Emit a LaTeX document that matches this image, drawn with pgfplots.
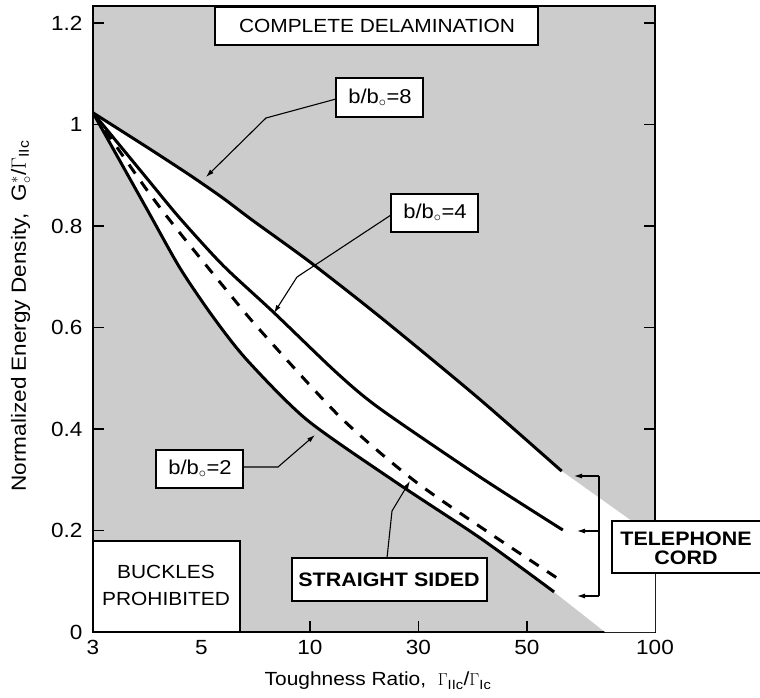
\documentclass[border=0pt]{standalone}
\usepackage{fontspec}
\setmainfont{Liberation Sans}[FakeStretch=1.1]
\usepackage{pgfplots}
\pgfplotsset{compat=1.18}
\usetikzlibrary{arrows.meta}
\definecolor{bggray}{RGB}{204,204,204}

\begin{document}
\begin{tikzpicture}[line cap=butt]
\begin{axis}[
  at={(93pt,65pt)}, anchor=south west,
  scale only axis, width=562pt, height=626pt,
  xmin=0, xmax=5.18, ymin=0, ymax=1.2335,
  axis background/.style={fill=bggray},
  axis line style={line width=1.8pt},
  xtick={0,1,2,3,4,5.18}, xticklabels={3,5,10,30,50,100},
  ytick={0,0.2,0.4,0.6,0.8,1,1.2},
  yticklabels={0,0.2,0.4,0.6,0.8,1,1.2},
  xtick pos=left, ytick pos=both,
  tick align=inside,
  major tick length=11pt,
  every tick/.style={line width=1.5pt, black},
  tick label style={font=\fontsize{20.5}{22}\selectfont},
  yticklabel style={xshift=-7pt},
  xticklabel style={yshift=-5pt},
  clip=true,
  curve/.style={black, line width=3pt, line join=round, smooth, tension=0.45},
]
% open region between the outermost curves
\addplot[fill=white, draw=none, smooth, tension=0.45] coordinates {
  (0,1.023) (0.5,0.955) (0.894,0.900) (1.198,0.855) (1.465,0.812)
  (2.0,0.729) (2.645,0.621) (3.54,0.463) (4.32,0.317)
} -- (axis cs:5.18,0.186) -- (axis cs:5.18,0) -- (axis cs:4.72,0)
  -- (axis cs:4.25,0.079) -- (axis cs:3.57,0.185) -- (axis cs:2.80,0.294)
  -- (axis cs:1.972,0.418) -- (axis cs:1.419,0.536) -- (axis cs:1.106,0.621)
  -- (axis cs:0.802,0.717) -- (axis cs:0.5,0.832) -- cycle;
% b/b0 = 8
\addplot[curve] coordinates {
  (0,1.023) (0.5,0.955) (0.894,0.900) (1.198,0.855) (1.465,0.812)
  (2.0,0.729) (2.645,0.621) (3.54,0.463) (4.32,0.317)
};
% b/b0 = 4
\addplot[curve] coordinates {
  (0,1.023) (0.5,0.893) (0.802,0.815) (1.2,0.722) (1.659,0.631)
  (2.25,0.510) (2.645,0.440) (3.57,0.305) (4.33,0.201)
};
% straight-sided limit
\addplot[curve, dash pattern=on 11pt off 10pt] coordinates {
  (0,1.023) (0.5,0.870) (0.802,0.786) (1.244,0.670) (1.539,0.595)
  (2.276,0.424) (2.95,0.300) (3.64,0.197) (4.28,0.106)
};
% b/b0 = 2
\addplot[curve] coordinates {
  (0,1.023) (0.5,0.832) (0.802,0.717) (1.106,0.621) (1.419,0.536)
  (1.972,0.418) (2.80,0.294) (3.57,0.185) (4.25,0.079)
};
\end{axis}

% annotations, in pixel-like units measured from the top left corner
\begin{scope}[x=1pt, y=-1pt, shift={(0pt,697pt)},
  box/.style={draw=black, line width=1.8pt, fill=white},
  lead/.style={line width=1.1pt, -{Latex[length=8pt,width=5pt]}},
  lbl/.style={font=\fontsize{19}{21}\selectfont},
  blbl/.style={font=\fontsize{19.5}{21}\selectfont\bfseries, align=center}]

  % complete delamination
  \draw[box] (215,7) rectangle (538,45);
  \node[lbl] at (377,26) {COMPLETE DELAMINATION};

  % b/b0 = 8
  \draw[lead] (336,99) -- (266,118) -- (206,177);
  \draw[box] (336,78) rectangle (423,117);
  \node[lbl, font=\fontsize{20}{22}\selectfont] at (380,98) {b/b$_{\circ}$=8};

  % b/b0 = 4
  \draw[lead] (391,215) -- (297,277) -- (274,313);
  \draw[box] (391,194) rectangle (478,232);
  \node[lbl, font=\fontsize{20}{22}\selectfont] at (435,213) {b/b$_{\circ}$=4};

  % b/b0 = 2
  \draw[lead] (243,467) -- (278,467) -- (315,435);
  \draw[box] (156,450) rectangle (243,488);
  \node[lbl, font=\fontsize{20}{22}\selectfont] at (200,469) {b/b$_{\circ}$=2};

  % buckles prohibited
  \draw[box] (93,541) rectangle (240,632);
  \node[lbl] at (166,572) {BUCKLES};
  \node[lbl] at (166,599) {PROHIBITED};

  % straight sided
  \draw[lead] (387,558) -- (392,511) -- (410,481);
  \draw[box] (292,558) rectangle (487,601);
  \node[blbl] at (389,580) {STRAIGHT SIDED};

  % telephone cord
  \draw[line width=1.1pt] (599,476) -- (599,596);
  \draw[lead] (599,476) -- (574,476);
  \draw[lead] (599,531) -- (577,531);
  \draw[lead] (599,596) -- (577,596);
  \draw[box] (612,521) rectangle (770,573);
  \node[blbl] at (686,539) {TELEPHONE};
  \node[blbl] at (686,558) {CORD};

  % axis titles
  \node[font=\fontsize{19}{21}\selectfont] at (378,681)
    {Toughness Ratio,\ \ $\Gamma$\textsubscript{IIc}/$\Gamma$\textsubscript{Ic}};
  \node[font=\fontsize{20.5}{22}\selectfont, rotate=90] at (21,316)
    {Normalized Energy Density,\ \ G$^{*}_{\circ}$/$\Gamma$\textsubscript{IIc}};
\end{scope}

\pgfresetboundingbox
\useasboundingbox (0,0) rectangle (760pt,697pt);
\end{tikzpicture}
\end{document}
